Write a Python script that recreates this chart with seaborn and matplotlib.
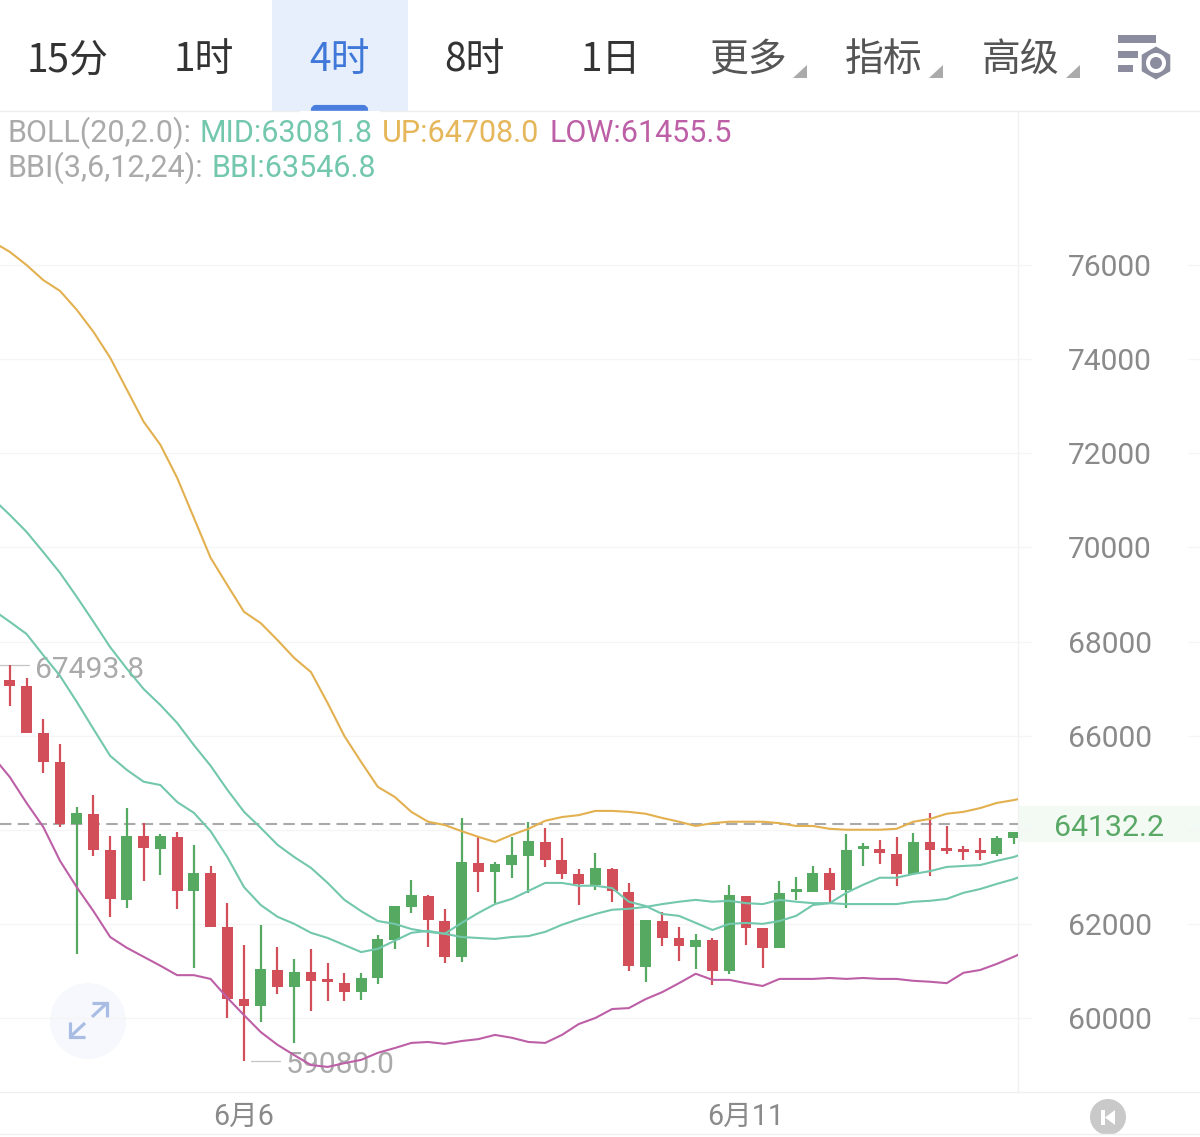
import matplotlib
matplotlib.use("Agg")
import matplotlib.pyplot as plt
from matplotlib.patches import Rectangle, Circle, Polygon, RegularPolygon, FancyBboxPatch
import numpy as np
import seaborn as sns

# Candles for the visible 4-hour sessions
opens = [67190, 67060, 66060, 65440, 64120, 64340, 63570, 62510, 63870, 63590,
         63850, 62700, 63080, 61930, 60400, 60260, 61020, 60660, 60980, 60790,
         60740, 60550, 60850, 61660, 62360, 62590, 62060, 61300, 63290, 63100,
         63250, 63440, 63740, 63360, 63060, 62830, 63170, 62680, 61080, 62060,
         61700, 61510, 61660, 61000, 62590, 61910, 61490, 62680, 62680, 63080,
         62720, 63590, 63590, 63490, 63060, 63740, 63570, 63570, 63550, 63490, 63830]
closes = [67060, 66060, 65440, 64120, 64360, 63570, 62530, 63870, 63610, 63870,
          62700, 63080, 61930, 60400, 60260, 61040, 60660, 60980, 60790, 60770,
          60560, 60850, 61680, 62380, 62610, 62080, 61300, 63320, 63100, 63270,
          63460, 63760, 63360, 63060, 62850, 63190, 62700, 61110, 62080, 61700,
          61530, 61660, 61000, 62610, 61910, 61490, 62660, 62720, 63080, 62720,
          63570, 63610, 63510, 63060, 63740, 63570, 63550, 63530, 63510, 63830, 63950]
highs = [67493.8, 67230, 66350, 65820, 64480, 64740, 63870, 64460, 64140, 63910,
         63950, 63680, 63230, 62440, 61550, 61980, 61510, 61250, 61470, 61170,
         60960, 60960, 61760, 62380, 62930, 62610, 62320, 64250, 63850, 63320,
         63850, 64170, 64040, 63830, 63170, 63510, 63190, 62870, 62080, 62250,
         61930, 61790, 61700, 62830, 62590, 61910, 62910, 63000, 63230, 63190,
         63910, 63720, 63780, 63850, 63930, 64360, 64080, 63660, 63830, 63870, 63950]
lows = [66630, 66060, 65210, 64060, 61360, 63440, 62150, 62340, 62910, 63040,
        62320, 61060, 61930, 60000, 59080.0, 59920, 60510, 59470, 60150, 60360,
        60360, 60380, 60720, 61470, 62230, 61510, 61170, 61190, 62680, 62440,
        62980, 62660, 63210, 62950, 62400, 62720, 62470, 61000, 60770, 61530,
        61210, 61040, 60700, 60940, 61550, 61060, 61490, 62510, 62680, 62470,
        62340, 63230, 63270, 62810, 63060, 63020, 63490, 63360, 63360, 63440, 63700]

# Indicators, one sample per session from one before the first candle to one after the last
boll_up = [76490, 76280, 76000, 75680, 75450, 75050, 74580, 74030, 73350, 72670, 72180,
           71480, 70630, 69780, 69200, 68630, 68390, 68030, 67650, 67350, 66690, 65990,
           65440, 64910, 64700, 64380, 64170, 64100, 63970, 63850, 63740, 63890, 64020,
           64190, 64270, 64310, 64400, 64400, 64380, 64340, 64250, 64170, 64080, 64140,
           64170, 64170, 64170, 64140, 64080, 64080, 64020, 64000, 64000, 64000, 64020,
           64170, 64230, 64340, 64380, 64460, 64570, 64630, 64708.0]
boll_mid = [71030, 70690, 70330, 69900, 69460, 68950, 68420, 67880, 67420, 66990, 66650,
            66270, 65800, 65360, 64850, 64380, 64040, 63680, 63420, 63190, 62870, 62510,
            62270, 62060, 62000, 61890, 61830, 61790, 61720, 61700, 61680, 61720, 61740,
            61830, 61980, 62100, 62210, 62300, 62320, 62360, 62420, 62470, 62510, 62470,
            62490, 62440, 62420, 62510, 62470, 62440, 62440, 62420, 62420, 62420, 62420,
            62470, 62490, 62530, 62660, 62740, 62850, 62950, 63081.8]
boll_low = [65550, 65120, 64570, 64060, 63340, 62780, 62270, 61720, 61490, 61300, 61110,
            60910, 60910, 60830, 60430, 60060, 59700, 59430, 59210, 59000, 58960, 59040,
            59110, 59260, 59360, 59470, 59490, 59450, 59510, 59550, 59640, 59580, 59490,
            59470, 59640, 59870, 60000, 60190, 60210, 60400, 60550, 60740, 60940, 60810,
            60810, 60740, 60680, 60830, 60830, 60830, 60850, 60830, 60850, 60830, 60830,
            60790, 60770, 60740, 60960, 61020, 61150, 61300, 61455.5]
bbi = [68670, 68420, 68160, 67710, 67270, 66720, 66140, 65570, 65270, 65020, 64950,
       64590, 64360, 63970, 63420, 62780, 62400, 62150, 62000, 61810, 61700, 61550,
       61400, 61470, 61640, 61810, 61850, 61790, 62020, 62230, 62420, 62530, 62700,
       62870, 62870, 62810, 62810, 62760, 62470, 62380, 62210, 62170, 62020, 61870,
       62000, 62020, 62000, 62060, 62170, 62400, 62440, 62660, 62830, 62980, 62980,
       63060, 63120, 63210, 63230, 63250, 63340, 63420, 63546.8]

y_ticks = [60000, 62000, 64000, 66000, 68000, 70000, 72000, 74000, 76000]
y_tick_labels = ["60000", "62000", "", "66000", "68000", "70000", "72000", "74000", "76000"]
date_positions = [14, 44]
date_labels = ["6月6", "6月11"]
last_price = 64132.2
tabs = ["15分", "1时", "4时", "8时", "1日", "更多", "指标", "高级"]

RED = "#d24e58"
GREEN = "#56a960"
UP_C = "#e3b04f"
MID_C = "#72c7ad"
LOW_C = "#bd5fa6"
GRID = "#f5f5f5"
LABEL = "#8a8a8a"
FADED = "#aaaaaa"

sns.set_theme(style="white")
plt.rcParams["font.family"] = ["Roboto", "Noto Sans CJK SC", "DejaVu Sans"]

W, H = 1200, 1137
fig = plt.figure(figsize=(W / 100, H / 100), dpi=100, facecolor="white")

# Full-canvas layer in pixel units for the toolbar and panel furniture
ui = fig.add_axes([0, 0, 1, 1], zorder=0)
ui.set_xlim(0, W)
ui.set_ylim(H, 0)
ui.axis("off")

# Price panel
panel_left, panel_right, panel_top, panel_bottom = 0, 1018, 112, 1092
ax = fig.add_axes([panel_left / W, 1 - panel_bottom / H,
                   (panel_right - panel_left) / W, (panel_bottom - panel_top) / H], zorder=1)
ax.patch.set_visible(False)
for side in ax.spines.values():
    side.set_visible(False)

ax.set_yticks(y_ticks, y_tick_labels)
ax.yaxis.tick_right()
ax.tick_params(axis="y", length=10, width=1, color=GRID, pad=26,
               labelsize=21.6, labelcolor=LABEL)
ax.grid(axis="y", color=GRID, linewidth=1)
ax.set_axisbelow(True)
ax.hlines(y_ticks, 1188 / 1018, 1200 / 1018, transform=ax.get_yaxis_transform(),
          color=GRID, linewidth=1, clip_on=False)

ax.set_xticks(date_positions, date_labels)
ax.tick_params(axis="x", length=0, pad=7.5, labelsize=20.6, labelcolor=LABEL)

# Last-price guide
ax.axhline(last_price, color="#aaaaaa", linewidth=1.5, dashes=(5.5, 3), zorder=2)

# High / low call-outs sit beneath the indicator lines
hi_i, lo_i = int(np.argmax(highs)), int(np.argmin(lows))
ax.plot([hi_i - 0.6, hi_i + 1.15], [highs[hi_i]] * 2, color="#c4c4c4", lw=0.9, zorder=2)
ax.text(hi_i + 1.5, highs[hi_i] - 40, f"{highs[hi_i]:.1f}", color=FADED, fontsize=21.6,
        va="center_baseline", ha="left", zorder=2)
ax.plot([lo_i + 0.42, lo_i + 2.15], [lows[lo_i]] * 2, color="#c4c4c4", lw=0.9, zorder=2)
ax.text(lo_i + 2.5, lows[lo_i] - 20, f"{lows[lo_i]:.1f}", color=FADED, fontsize=21.6,
        va="center_baseline", ha="left", zorder=2)

# Candlesticks
idx = np.arange(len(opens))
o, c = np.array(opens), np.array(closes)
colors = [GREEN if cl >= op else RED for op, cl in zip(o, c)]
ax.vlines(idx, lows, highs, colors=colors, linewidth=1.6, zorder=3)
body = np.maximum(np.abs(c - o), 55)
ax.bar(idx, body, bottom=np.minimum(o, c), width=0.65, color=colors, linewidth=0, zorder=3)

# Bollinger bands and BBI
line_x = np.arange(-1, 62)
for series, colour in [(boll_up, UP_C), (boll_mid, MID_C), (bbi, MID_C), (boll_low, LOW_C)]:
    sns.lineplot(x=line_x, y=series, ax=ax, color=colour, linewidth=1.5,
                 legend=False, errorbar=None, zorder=4)
ax.set_xlim(-0.586, 60.26)
ax.set_ylim(58427, 79252)
ax.set_xlabel("")
ax.set_ylabel("")

# Panel rules
ui.plot([0, W], [111, 111], color="#efefef", lw=1)
ui.plot([0, W], [1092, 1092], color="#f0f0f0", lw=1)
ui.plot([0, W], [1134, 1134], color="#f0f0f0", lw=1)
ui.plot([1018, 1018], [112, 1092], color="#f1f1f1", lw=1)

# Current-price tag
ui.add_patch(Rectangle((1019, 806), 181, 36, color="#f2faf3", lw=0))
ui.text(1109, 825, f"{last_price:.1f}", color="#5aa866", fontsize=21.8,
        ha="center", va="center_baseline")

# Toolbar
ui.add_patch(Rectangle((272, 0), 136, 111, color="#e6effb", lw=0))
ui.add_patch(FancyBboxPatch((313, 107), 53, 8, boxstyle="round,pad=0,rounding_size=0.1",
                            mutation_scale=30, color="#4a7ede", lw=3, clip_on=True))
ui.add_patch(Rectangle((300, 111), 80, 8, color="white", lw=0, zorder=3))
tab_x = [68, 204, 339, 474, 611, 748, 884, 1021]
tab_colors = ["#333333", "#333333", "#3f78d8", "#333333", "#333333", "#555555", "#555555", "#555555"]
for name, x, col in zip(tabs, tab_x, tab_colors):
    ui.text(x, 60, name, color=col, fontsize=28, ha="center", va="center",
            family=["Noto Sans CJK SC", "DejaVu Sans"])
for tip in (807, 943, 1080):
    ui.add_patch(Polygon([(tip, 65), (tip, 78), (tip - 14, 78)], closed=True, color="#aaaaaa", lw=0))

# Settings icon
ICON = "#8b8d9e"
ui.add_patch(Rectangle((1118, 35), 38, 8, color=ICON, lw=0))
ui.add_patch(Rectangle((1118, 51), 20, 7, color=ICON, lw=0))
ui.add_patch(Rectangle((1118, 65), 15, 7, color=ICON, lw=0))
ui.add_patch(RegularPolygon((1156, 63), 6, radius=16.5, color=ICON, lw=0))
ui.add_patch(Circle((1156, 63), 10, color="white", lw=0))
ui.add_patch(Circle((1156, 63), 6, color=ICON, lw=0))

# Indicator read-outs
def readout(x, baseline, text, colour):
    ui.text(x, baseline, text, color=colour, fontsize=22, ha="left", va="baseline")

readout(8, 142, "BOLL(20,2.0):", FADED)
readout(200, 142, f"MID:{boll_mid[-1]:.1f}", "#72c7ad")
readout(382, 142, f"UP:{boll_up[-1]:.1f}", "#e5b65a")
readout(549, 142, f"LOW:{boll_low[-1]:.1f}", "#bd5fa6")
readout(8, 177, "BBI(3,6,12,24):", FADED)
readout(211, 177, f"BBI:{bbi[-1]:.1f}", "#72c7ad")

# Expand button
ui.add_patch(Circle((88, 1021), 38, color="#f6f8fd", lw=0))
ARROW = "#a9bde4"
for xs, ys in [([92, 107], [1017, 1003]), ([92, 107, 107], [1003, 1003, 1017]),
               ([85, 70], [1023, 1037]), ([70, 70, 85], [1022, 1037, 1037])]:
    ui.plot(xs, ys, color=ARROW, lw=2.3, solid_capstyle="butt", solid_joinstyle="miter")

# Jump-to-latest button
ui.add_patch(Circle((1108, 1117), 18, color="#c9c9c9", lw=0))
ui.add_patch(Rectangle((1101, 1110), 4, 15, color="white", lw=0))
ui.add_patch(Polygon([(1115, 1110), (1105, 1117.5), (1115, 1125)], closed=True, color="white", lw=0))

fig.savefig("out.png", dpi=100, facecolor="white")
